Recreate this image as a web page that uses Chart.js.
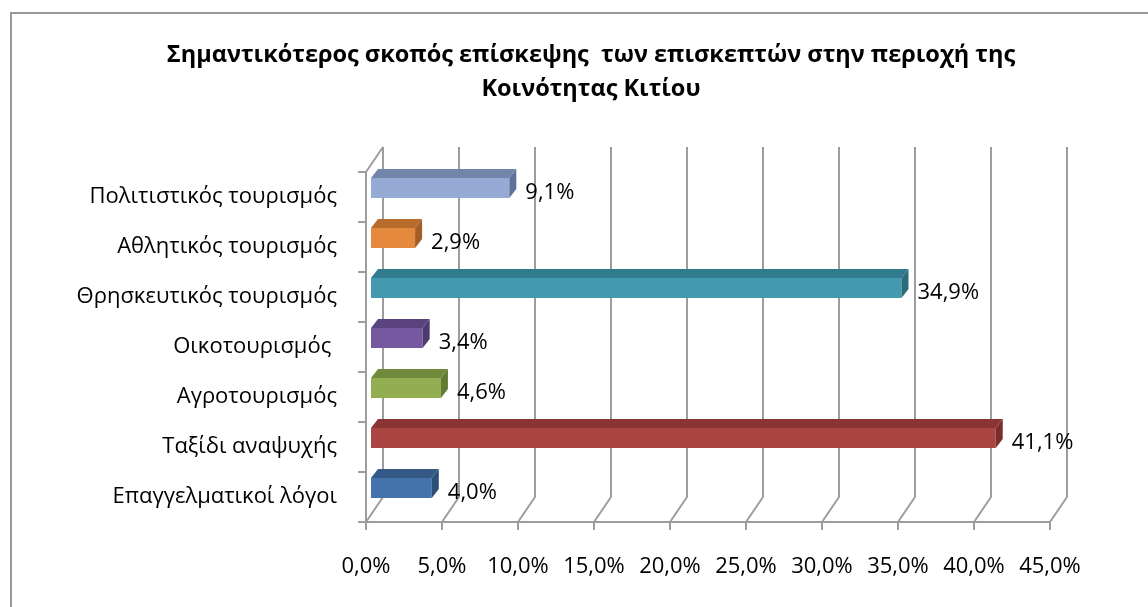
<!DOCTYPE html>
<html>
<head>
<meta charset="utf-8">
<script src="https://cdn.jsdelivr.net/npm/chart.js@4"></script>
<style>
  html, body { margin: 0; padding: 0; background: #ffffff; }
  #wrap { width: 1148px; height: 607px; position: relative; }
</style>
</head>
<body>
<div id="wrap"><canvas id="c" width="1148" height="607"></canvas></div>
<script>
// ---- data ----
const titleLines = ["Σημαντικότερος σκοπός επίσκεψης  των επισκεπτών στην περιοχή της", "Κοινότητας Κιτίου"];
const categories = ["Πολιτιστικός τουρισμός", "Αθλητικός τουρισμός", "Θρησκευτικός τουρισμός", "Οικοτουρισμός ", "Αγροτουρισμός", "Ταξίδι αναψυχής", "Επαγγελματικοί λόγοι"];
const values = [9.1, 2.9, 34.9, 3.4, 4.6, 41.1, 4.0];
const frontColors = ["#95abd5", "#e5893c", "#4299b0", "#7558a0", "#93ad51", "#ab4543", "#4373aa"];
const topColors   = ["#7186aa", "#b76b2c", "#307b8d", "#5b4380", "#708a3c", "#8a3533", "#345987"];
const sideColors  = ["#5f7398", "#a35e26", "#2a6c7c", "#4f3a70", "#627a33", "#7a2e2c", "#2d4e77"];
const xTicks = [0, 5, 10, 15, 20, 25, 30, 35, 40, 45];

const FONT = "'Open Sans', 'Noto Sans', sans-serif";
const BACK = { dx: 17, dy: -25 };   // back wall offset
const BAR  = { dx: 5, dy: -9 };     // bar plane offset
const DEPTH = { dx: 7, dy: -9 };    // bar depth
const GRID = "#9d9d9d";

const fmt = v => v.toFixed(1).replace('.', ',') + '%';

const deco = {
  id: 'deco',
  beforeDraw(chart) {
    const ctx = chart.ctx;
    ctx.save();
    ctx.fillStyle = '#fff';
    ctx.fillRect(0, 0, chart.width, chart.height);
    ctx.strokeStyle = '#999';
    ctx.lineWidth = 2;
    ctx.strokeRect(11, 13, 1200, 700);
    // title
    ctx.fillStyle = '#000';
    ctx.font = "bold 23.5px " + FONT;
    ctx.textAlign = 'center';
    ctx.textBaseline = 'middle';
    ctx.fillText(titleLines[0], 591, 55);
    ctx.fillText(titleLines[1], 591, 89);
    ctx.restore();
  },
  beforeDatasetsDraw(chart) {
    const ctx = chart.ctx;
    const xs = chart.scales.x, ys = chart.scales.y;
    const a = chart.chartArea;
    ctx.save();
    ctx.strokeStyle = GRID;
    ctx.lineWidth = 2;
    ctx.lineCap = 'butt';
    // back wall vertical gridlines + floor diagonals + ticks
    xTicks.forEach(v => {
      const fx = xs.getPixelForValue(v);
      ctx.beginPath();
      ctx.moveTo(fx + BACK.dx, a.top + BACK.dy);
      ctx.lineTo(fx + BACK.dx, a.bottom + BACK.dy);
      ctx.lineTo(fx, a.bottom);
      ctx.lineTo(fx, a.bottom + 8);
      ctx.stroke();
    });
    // left wall
    ctx.beginPath();
    ctx.moveTo(a.left + BACK.dx, a.top + BACK.dy);
    ctx.lineTo(a.left, a.top);
    ctx.lineTo(a.left, a.bottom);
    ctx.lineTo(xs.getPixelForValue(45), a.bottom);
    ctx.stroke();
    // category boundary ticks
    for (let k = 0; k <= categories.length; k++) {
      const y = a.top + k * (a.bottom - a.top) / categories.length;
      ctx.beginPath();
      ctx.moveTo(a.left - 8, y);
      ctx.lineTo(a.left, y);
      ctx.stroke();
    }
    ctx.restore();
    ctx.save();
    ctx.translate(BAR.dx, BAR.dy);
  },
  afterDatasetsDraw(chart) {
    const ctx = chart.ctx;
    const meta = chart.getDatasetMeta(0);
    meta.data.forEach((el, i) => {
      const p = el.getProps(['x', 'y', 'base', 'height'], true);
      const top = p.y - p.height / 2, bot = p.y + p.height / 2;
      ctx.fillStyle = topColors[i];
      ctx.beginPath();
      ctx.moveTo(p.base, top);
      ctx.lineTo(p.base + DEPTH.dx, top + DEPTH.dy);
      ctx.lineTo(p.x + DEPTH.dx, top + DEPTH.dy);
      ctx.lineTo(p.x, top);
      ctx.closePath();
      ctx.fill();
      ctx.fillStyle = sideColors[i];
      ctx.beginPath();
      ctx.moveTo(p.x, top);
      ctx.lineTo(p.x + DEPTH.dx, top + DEPTH.dy);
      ctx.lineTo(p.x + DEPTH.dx, bot + DEPTH.dy);
      ctx.lineTo(p.x, bot);
      ctx.closePath();
      ctx.fill();
    });
    ctx.restore();
    // value labels
    const xs = chart.scales.x, ys = chart.scales.y;
    ctx.save();
    ctx.fillStyle = '#000';
    ctx.font = "22px " + FONT;
    ctx.textAlign = 'left';
    ctx.textBaseline = 'middle';
    values.forEach((v, i) => {
      ctx.fillText(fmt(v), xs.getPixelForValue(v) + 21, ys.getPixelForValue(i) - 4);
    });
    ctx.restore();
  }
};

new Chart(document.getElementById('c'), {
  type: 'bar',
  data: {
    labels: categories,
    datasets: [{
      data: values,
      backgroundColor: frontColors,
      borderWidth: 0,
      barPercentage: 0.4,
      categoryPercentage: 1.0,
      clip: false
    }]
  },
  options: {
    indexAxis: 'y',
    responsive: false,
    animation: false,
    events: [],
    layout: { padding: { left: 0, top: 172, right: 98, bottom: 25 } },
    plugins: { legend: { display: false }, tooltip: { enabled: false }, title: { display: false } },
    scales: {
      x: {
        min: 0, max: 45,
        afterFit: s => { s.height = 60; },
        afterBuildTicks: s => { s.ticks = xTicks.map(v => ({ value: v })); },
        grid: { display: false, drawTicks: false },
        border: { display: false },
        ticks: { padding: 32, color: '#000', font: { family: FONT, size: 22 }, callback: v => fmt(v), maxRotation: 0, autoSkip: false }
      },
      y: {
        afterFit: s => { s.width = 366; },
        grid: { display: false, drawTicks: false },
        border: { display: false },
        ticks: { padding: 29, color: '#000', font: { family: FONT, size: 22 }, autoSkip: false }
      }
    }
  },
  plugins: [deco]
});
</script>
</body>
</html>
